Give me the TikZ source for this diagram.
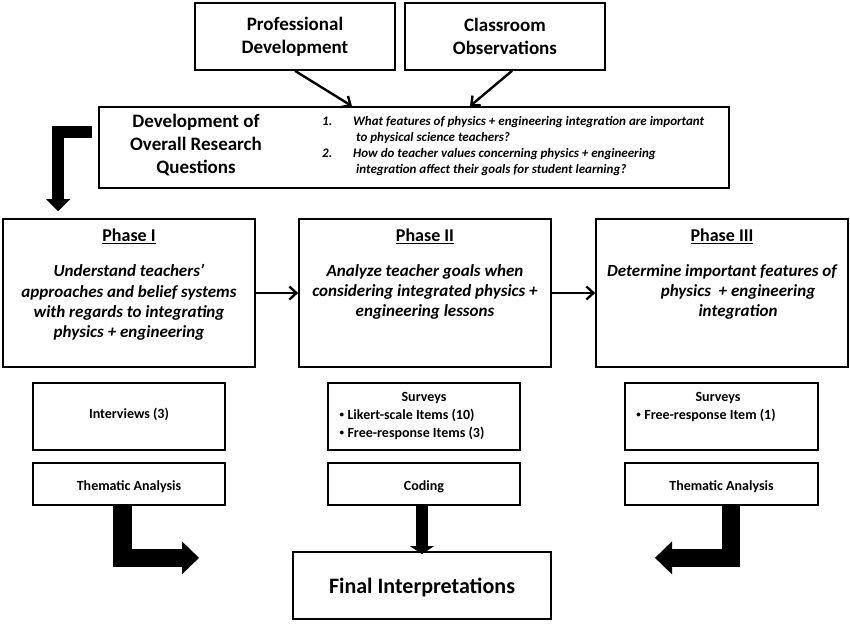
\documentclass[tikz,border=0pt]{standalone}
\usepackage{fontspec}
\setmainfont{Carlito}
\usetikzlibrary{arrows.meta,calc}
\newcommand{\smbul}{\raisebox{1.2pt}{\fontsize{9}{9}\selectfont •}\hspace{3.5pt}}
\begin{document}
\begin{tikzpicture}[x=1pt,y=-1pt,
  box/.style={draw=black, line width=1.7pt, rectangle, inner sep=0pt},
  big/.style={inner sep=0pt, align=center, font=\bfseries\fontsize{19}{23}\selectfont},
  small/.style={inner sep=0pt, align=center, font=\bfseries\fontsize{14}{18}\selectfont},
  ptitle/.style={inner sep=0pt, font=\bfseries\fontsize{18}{22}\selectfont},
  pbody/.style={inner sep=0pt, align=center, font=\bfseries\itshape\fontsize{17}{20.3}\selectfont},
  thinarrow/.style={line width=2.4pt, -{Straight Barb[length=7pt,width=13pt]}},
  fatA/.style={line width=12pt, -{Triangle[length=12pt,width=24pt,line width=0pt]}},
  fatB/.style={line width=18.5pt, -{Triangle[length=17pt,width=33pt,line width=0pt]}},
  fatC/.style={line width=12pt, -{Triangle[length=8pt,width=24pt,line width=0pt]}}
]
\useasboundingbox (0,0) rectangle (850,623);

% top boxes
\node[box, minimum width=200pt, minimum height=67pt] (pd) at (295,36.5) {};
\node[big] at (pd) {Professional\\Development};
\node[box, minimum width=200pt, minimum height=67pt] (co) at (505,36.5) {};
\node[big] at (co) {Classroom\\Observations};

% research questions box
\node[box, minimum width=630pt, minimum height=81pt] (rq) at (414,147.5) {};
\node[big] (rqt) at (196,145) {Development of\\Overall Research\\Questions};
\node[anchor=west, inner sep=0pt, font=\bfseries\itshape\fontsize{13}{16}\selectfont] (rqq) at (322,146)
 {\begin{tabular}{@{}p{31pt}@{}l@{}}
  1. & What features of physics + engineering integration are important\\
     & \hspace{3pt}to physical science teachers?\\
  2. & How do teacher values concerning physics + engineering\\
     & \hspace{3pt}integration affect their goals for student learning?
  \end{tabular}};

\draw[thinarrow] (pd.south) -- ([xshift=-62pt]rq.north);
\draw[thinarrow] ([xshift=7pt]co.south) -- ([xshift=56pt]rq.north);

% phase boxes
\node[box, minimum width=252pt, minimum height=148pt] (p1) at (129,293) {};
\node[box, minimum width=252pt, minimum height=148pt] (p2) at (425,293) {};
\node[box, minimum width=252pt, minimum height=148pt] (p3) at (722,293) {};

\node[ptitle] at ($(p1.north)+(0,18)$) {\underline{Phase I}};
\node[ptitle] at ($(p2.north)+(0,18)$) {\underline{Phase II}};
\node[ptitle] at ($(p3.north)+(0,18)$) {\underline{Phase III}};

\node[pbody] at (129,302.5) {Understand teachers’\\approaches and belief systems\\with regards to integrating\\physics + engineering};
\node[pbody] at (425,292) {Analyze teacher goals when\\considering integrated physics +\\engineering lessons};
\node[pbody] at (722,292) {Determine important features of\\\hspace*{32pt}physics \ + engineering\\\hspace*{32pt}integration};

\draw[thinarrow] (p1.east) -- (p2.west);
\draw[thinarrow] (p2.east) -- (p3.west);

% method boxes
\node[box, minimum width=192pt, minimum height=67pt] (b1) at (129,416.5) {};
\node[box, minimum width=192pt, minimum height=67pt] (b2) at (424,416.5) {};
\node[box, minimum width=193pt, minimum height=67pt] (b3) at (721.5,416.5) {};
\node[small] at (129,414) {Interviews (3)};
\node[small] at (412,415.5) {\begin{tabular}{@{}l@{}}\multicolumn{1}{@{}c@{}}{\hspace*{24pt}Surveys}\\\smbul Likert-scale Items (10)\\\smbul Free-response Items (3)\end{tabular}};
\node[small] at (706,406.5) {\begin{tabular}{@{}l@{}}\multicolumn{1}{@{}c@{}}{\hspace*{24pt}Surveys}\\\smbul Free-response Item (1)\end{tabular}};

% analysis boxes
\node[box, minimum width=192pt, minimum height=42pt] (t1) at (129,484) {};
\node[box, minimum width=192pt, minimum height=42pt] (t2) at (424,484) {};
\node[box, minimum width=193pt, minimum height=42pt] (t3) at (721.5,484) {};
\node[small] at (129,487) {Thematic Analysis};
\node[small] at (424,487) {Coding};
\node[small] at (721.5,487) {Thematic Analysis};

% final box
\node[box, minimum width=258pt, minimum height=67pt] (fi) at (422,585.5) {};
\node[inner sep=0pt, font=\bfseries\fontsize{22}{26}\selectfont] at (422,587) {Final Interpretations};

% fat arrows
\coordinate (a1s) at ($(rq.west)+(-6.3,-16)$);
\coordinate (a1e) at ($(p1.north west)+(56,-7)$);
\draw[fatA] (a1s) -| (a1e);

\coordinate (a2s) at ($(t1.south)+(-6.5,0)$);
\coordinate (a2e) at ($(t1.south)+(70,52)$);
\draw[fatB] (a2s) |- (a2e);

\coordinate (a3s) at ($(t3.south)+(9.5,0)$);
\coordinate (a3e) at ($(t3.south)+(-66.5,52)$);
\draw[fatB] (a3s) |- (a3e);

\draw[fatC] ([xshift=-2pt]t2.south) -- ([yshift=-3pt]fi.north);
\end{tikzpicture}
\end{document}
